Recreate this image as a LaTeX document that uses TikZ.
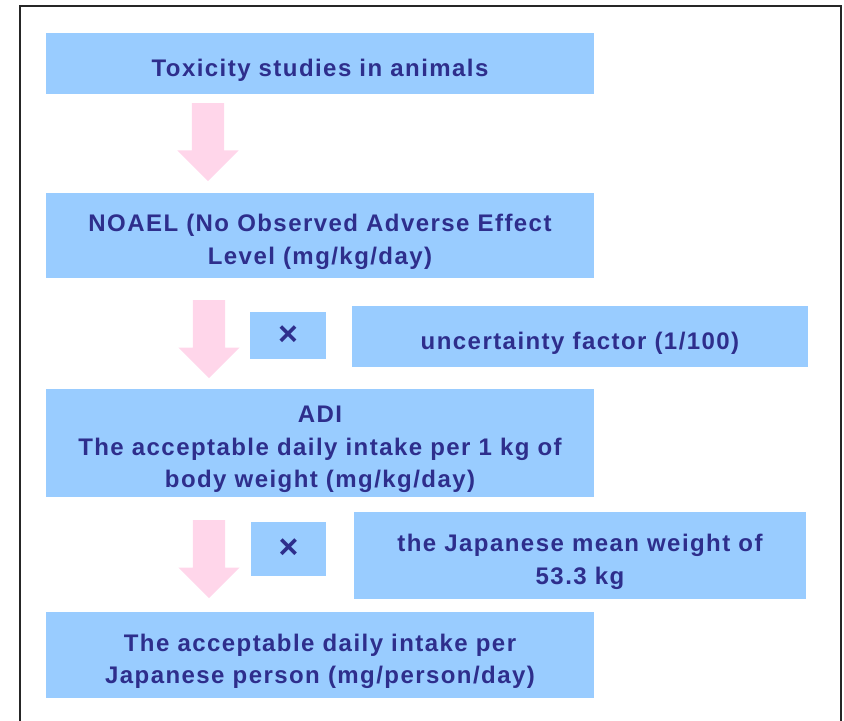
\documentclass[tikz,border=0pt]{standalone}
\usepackage{fontspec}
\newfontfamily\boxfont{Liberation Sans}[LetterSpace=6]
\usetikzlibrary{shapes,shapes.arrows}
\definecolor{boxblue}{HTML}{99CCFF}
\definecolor{textnavy}{HTML}{2E2E8C}
\definecolor{arrowpink}{HTML}{FFD6EA}
\newcommand{\topgap}{\rule{0pt}{30bp}}
\tikzstyle{stage}=[rectangle,fill=boxblue,draw=none,inner sep=0pt,align=center,text=textnavy,font=\boxfont\bfseries\fontsize{24bp}{32.5bp}\selectfont]
\tikzstyle{mainstage}=[stage,minimum width=548bp]
\tikzstyle{timesbox}=[stage,font=\boxfont\bfseries\fontsize{34bp}{34bp}\selectfont]
\tikzstyle{downarrow}=[single arrow,fill=arrowpink,draw=none,shape border rotate=270,minimum height=78bp,inner sep=16bp,single arrow head extend=14.5bp,single arrow tip angle=90,anchor=tail]

\begin{document}
\begin{tikzpicture}[x=1bp,y=-1bp]

    \useasboundingbox (0,0) rectangle (844,721);
    \begin{scope}
    \clip (0,0) rectangle (844,721);
    \draw[line width=2bp,black!85] (19.5,6.5) rectangle (841,740);
    \end{scope}

    % main steps
    \node[mainstage, minimum height=61bp] (tox) at (320,63.5) {\topgap Toxicity studies in animals};
    \node[mainstage, minimum height=85bp] (noael) at (320,235.5) {\topgap NOAEL (No Observed Adverse Effect\\Level (mg/kg/day)};
    \node[mainstage, minimum height=108bp] (adi) at (320,443) {\topgap ADI\\The acceptable daily intake per 1 kg of\\body weight (mg/kg/day)};
    \node[mainstage, minimum height=86bp] (person) at (320,655) {\topgap The acceptable daily intake per\\Japanese person (mg/person/day)};

    % factors
    \node[timesbox, minimum width=76bp, minimum height=47bp] (timesA) at (288,335.5) {×};
    \node[stage, minimum width=456bp, minimum height=61bp] (uncert) at (580,336.5) {\topgap uncertainty factor (1/100)};
    \node[timesbox, minimum width=75bp, minimum height=54bp] (timesB) at (288.5,549) {×};
    \node[stage, minimum width=452bp, minimum height=87bp] (weight) at (580,555.5) {\topgap the Japanese mean weight of\\53.3 kg};

    % arrows
    \foreach \x/\y/\name in {208/103/arrA, 209/300/arrB, 209/520/arrC}
        \node[downarrow] (\name) at (\x,\y) {};

\end{tikzpicture}
\end{document}
